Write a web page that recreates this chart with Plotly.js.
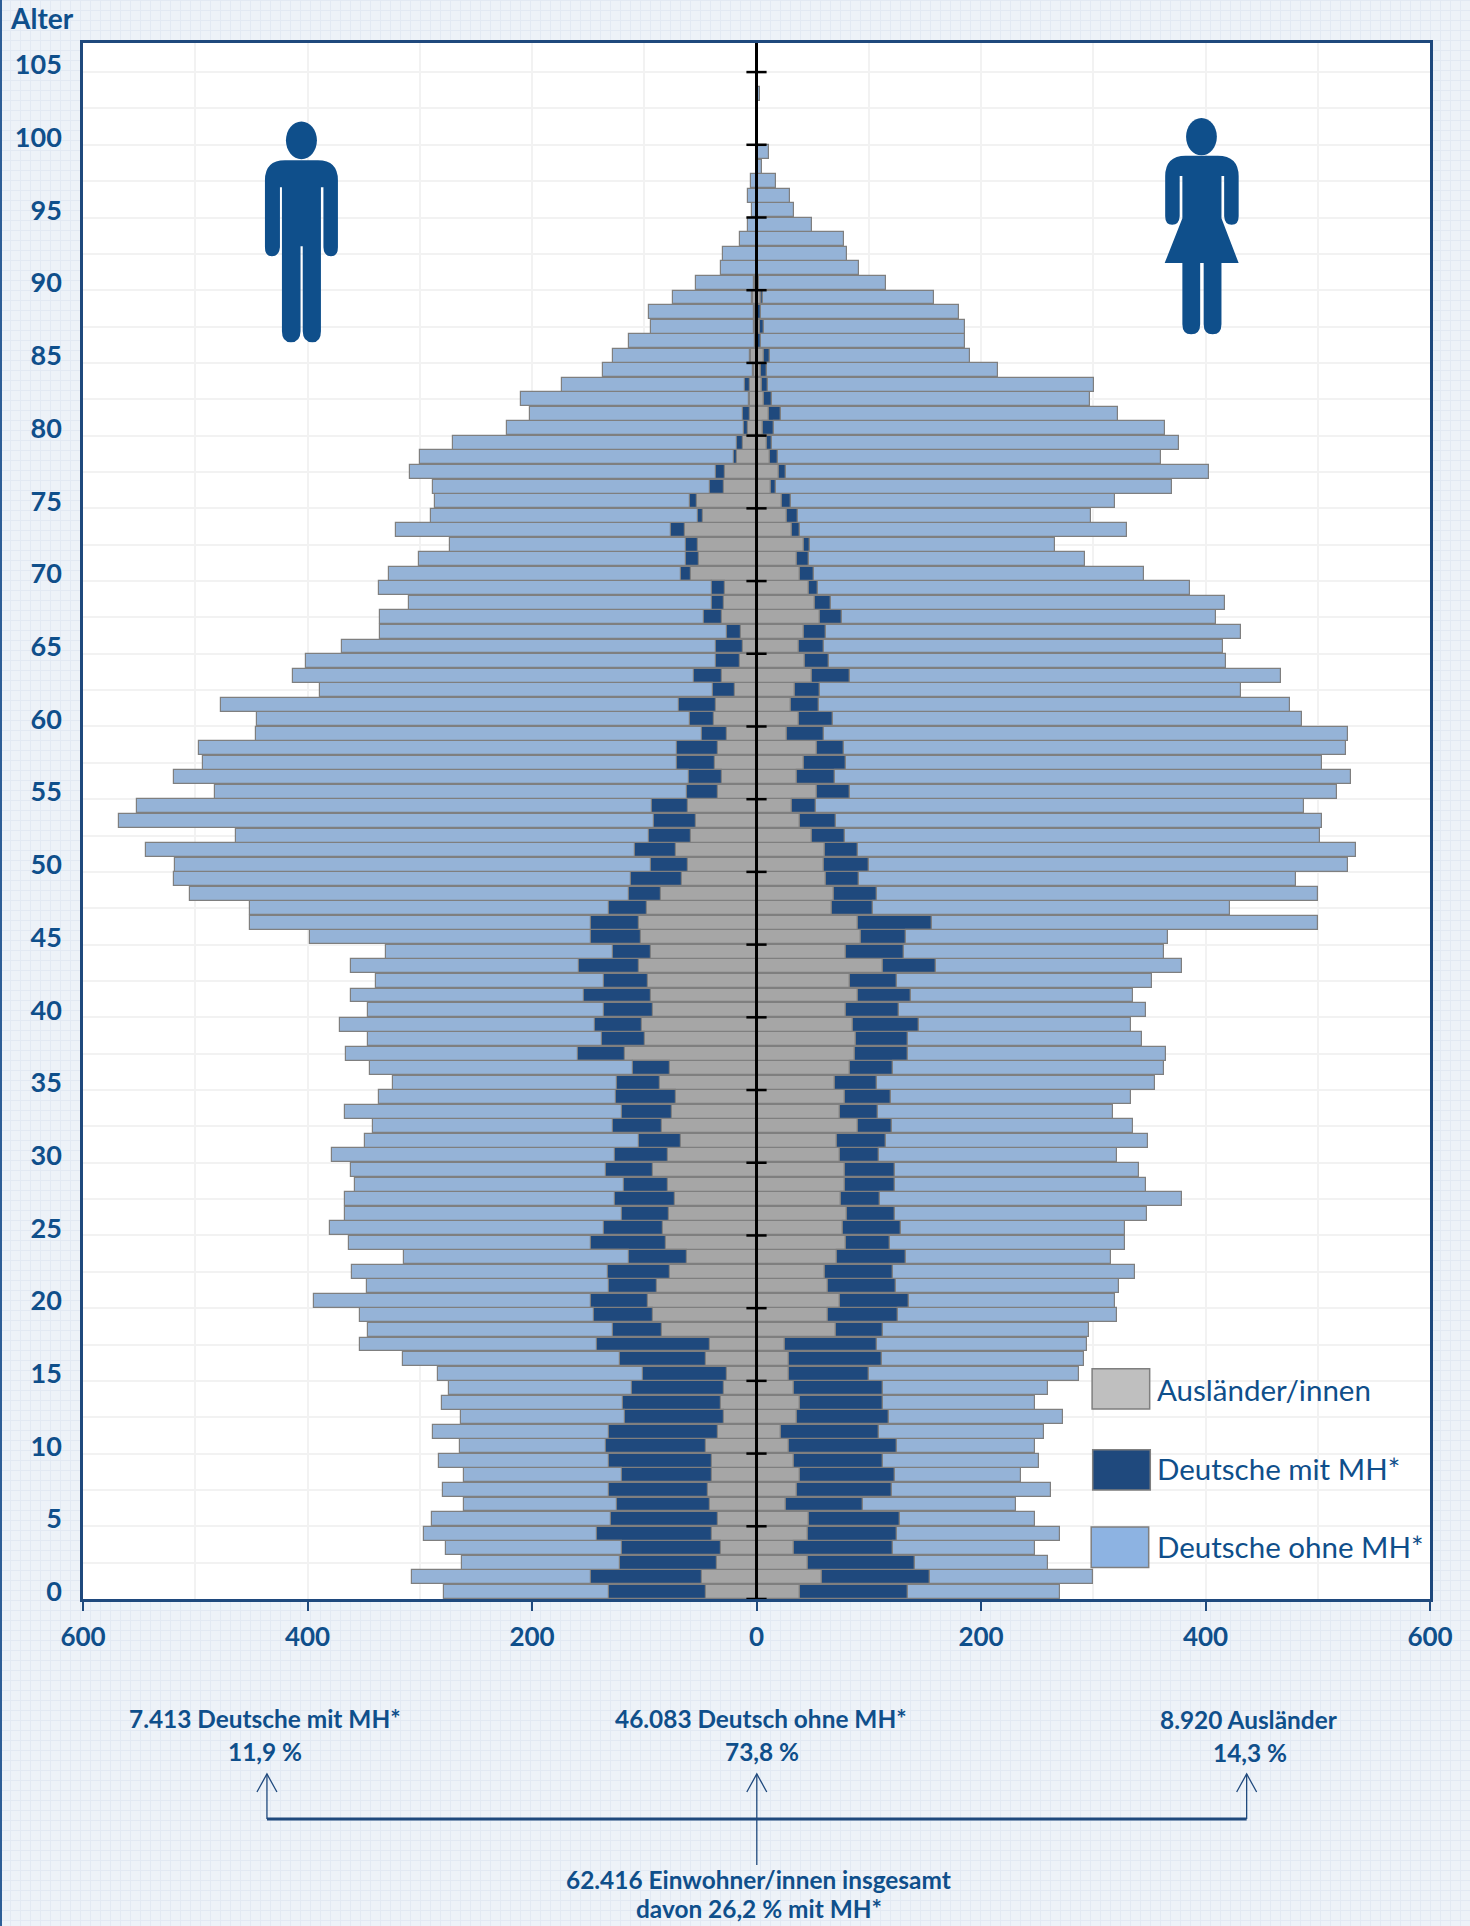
<!DOCTYPE html>
<html lang="de">
<head>
<meta charset="utf-8">
<title>Alterspyramide</title>
<script src="https://cdn.plot.ly/plotly-3.0.1.min.js"></script>
<style>
html,body{margin:0;padding:0;width:1470px;height:1926px;overflow:hidden;}
body{background-color:#EDF2F8;
background-image:linear-gradient(to right,#E2E9F3 1px,transparent 1px),linear-gradient(to bottom,#E2E9F3 1px,transparent 1px);
background-size:10px 10px;border-left:0;}
#edge{position:absolute;left:0;top:0;width:2px;height:1926px;background:#2F5F97;}
#chart{position:absolute;left:0;top:0;width:1470px;height:1926px;}
</style>
</head>
<body>
<div id="edge"></div>
<div id="chart"></div>
<script>
// Index = age (0..105). Each array holds the cumulative extent of the stack.
const maleForeign = [
45,49,35,32,40,34,41,43,40,40,
45,34,29,32,29,26,45,41,84,92,
97,89,77,62,81,83,78,73,79,92,
79,67,84,75,72,86,77,117,99,102,
92,94,97,105,94,103,105,98,85,66,
61,72,58,54,61,34,31,37,34,26,
38,36,19,31,15,12,14,31,29,28,
58,51,52,64,48,53,29,28,17,12,
8,6,6,6,2,5,1,1,1,3,
1,0,0,0,0,0,0,0,0,0,
0,0,0,0,0,0];
const maleForeignPlusMH = [
131,147,122,120,142,130,124,131,120,131,
134,131,117,119,111,101,122,142,128,145,
147,131,132,114,147,136,120,126,118,134,
126,105,128,120,125,124,110,159,138,144,
136,154,136,158,128,147,147,131,114,112,
94,108,96,91,93,62,60,71,71,49,
59,69,39,56,36,36,26,47,40,40,
67,63,63,76,52,59,41,36,20,17,
11,12,7,10,3,6,1,2,2,4,
2,0,0,0,0,0,0,0,0,0,
0,0,0,0,0,0];
const maleTotal = [
278,307,262,277,296,289,261,279,261,283,
264,288,263,280,274,284,315,353,346,353,
394,347,360,314,363,380,367,367,358,361,
378,349,342,367,336,324,344,366,346,371,
346,361,339,361,330,398,451,451,505,519,
518,544,464,568,552,482,519,493,497,446,
445,477,389,413,401,369,335,335,310,336,
327,301,273,321,290,286,288,309,300,270,
222,202,210,173,137,128,114,94,96,74,
54,32,30,15,8,4,8,5,0,0,
0,0,0,0,0,0];
const femaleForeign = [
39,58,46,33,46,47,26,36,39,33,
29,22,36,39,33,29,29,25,71,64,
74,64,61,72,80,77,81,75,79,79,
74,72,90,74,79,70,83,88,89,86,
80,90,83,113,80,93,90,67,69,62,
60,61,49,39,32,54,36,42,54,27,
38,31,34,49,43,38,42,57,52,47,
39,36,42,32,27,23,13,20,12,9,
6,11,7,5,4,7,1,3,1,4,
1,0,0,0,0,0,0,0,0,0,
0,0,0,0,0,0];
const femaleForeignPlusMH = [
135,155,141,122,125,128,95,121,123,113,
125,109,118,113,113,100,112,107,113,126,
136,124,122,133,119,129,123,110,123,123,
109,115,121,108,120,107,122,135,135,145,
127,138,125,160,131,133,156,104,107,91,
100,90,79,71,53,83,70,80,78,60,
68,56,57,83,65,60,62,76,66,55,
51,47,48,39,37,31,17,26,19,14,
16,22,14,10,9,12,4,7,4,6,
2,0,0,0,0,0,0,0,0,0,
0,0,0,0,0,0];
const femaleTotal = [
270,300,260,248,270,248,231,262,236,252,
248,256,273,248,260,287,292,294,296,321,
319,323,337,316,328,328,348,379,347,341,
321,349,335,318,334,355,363,365,343,334,
347,335,352,379,363,367,500,422,500,481,
527,534,502,504,488,517,530,504,525,527,
486,475,432,467,418,416,432,409,417,386,
345,293,266,330,298,319,370,403,360,376,
364,322,297,301,215,190,186,186,180,158,
115,91,81,78,49,33,30,17,5,11,
0,0,0,3,0,0];

const ageLabels = [0,5,10,15,20,25,30,35,40,45,50,55,60,65,70,75,80,85,90,95,100,105];
const xTickValues = [-600,-400,-200,0,200,400,600];
const seriesNames = ["Ausländer/innen","Deutsche mit MH*","Deutsche ohne MH*"];
const summaryTop = [
  ["7.413 Deutsche mit MH*","11,9 %"],
  ["46.083 Deutsch ohne MH*","73,8 %"],
  ["8.920 Ausländer","14,3 %"]];
const summaryTotal = ["62.416 Einwohner/innen insgesamt","davon 26,2 % mit MH*"];

const W=1470,H=1926;
const M={l:83,r:39.6,t:42.6,b:327};
const PW=W-M.l-M.r, PH=H-M.t-M.b;
const BLUE="#0F4F8B", NAVY="#1F497D", FONT="Lato, sans-serif";
const COL={grey:"#A6A6A6",dark:"#1F497D",light:"#95B3D7",edge:"#7F7F7F"};
// paper coordinates are relative to the plot area
const px=x=>(x-M.l)/PW, py=y=>1-(y-M.t)/PH;

const ages=maleTotal.map((_,i)=>i+0.5);
const diff=(a,b)=>a.map((v,i)=>Math.max(v-(b?b[i]:0),0));
function bar(name,vals,color,sign,leg){
  return {type:"bar",orientation:"h",name:name,y:ages,x:vals.map(v=>sign*v),width:0.96,
    marker:{color:color,line:{color:COL.edge,width:1.2}},
    hoverinfo:"name+x",showlegend:false,legendgroup:leg};
}
const traces=[
  bar(seriesNames[0],diff(maleForeign),COL.grey,-1,"a"),
  bar(seriesNames[1],diff(maleForeignPlusMH,maleForeign),COL.dark,-1,"b"),
  bar(seriesNames[2],diff(maleTotal,maleForeignPlusMH),COL.light,-1,"c"),
  bar(seriesNames[0],diff(femaleForeign),COL.grey,1,"a"),
  bar(seriesNames[1],diff(femaleForeignPlusMH,femaleForeign),COL.dark,1,"b"),
  bar(seriesNames[2],diff(femaleTotal,femaleForeignPlusMH),COL.light,1,"c")
];

// centre line and age ticks on it
const shapes=[{type:"line",xref:"x",yref:"paper",x0:0,x1:0,y0:0,y1:1,line:{color:"#000",width:3},layer:"above"}];
ageLabels.forEach(a=>shapes.push({type:"line",xref:"x",yref:"y",x0:-9,x1:9,y0:a,y1:a,line:{color:"#000",width:2.5},layer:"above"}));

function pathShape(d,fill,lineColor,lw){
  return {type:"path",xref:"paper",yref:"paper",path:d,fillcolor:fill||"rgba(0,0,0,0)",
    line:{color:lineColor||"rgba(0,0,0,0)",width:lw||0},layer:"above"};
}
const P=(x,y)=>px(x)+","+py(y);
const ell=(cx,cy,rx,ry)=>{
  const k=0.5523;
  return "M"+P(cx-rx,cy)+"C"+P(cx-rx,cy-k*ry)+" "+P(cx-k*rx,cy-ry)+" "+P(cx,cy-ry)+
  "C"+P(cx+k*rx,cy-ry)+" "+P(cx+rx,cy-k*ry)+" "+P(cx+rx,cy)+
  "C"+P(cx+rx,cy+k*ry)+" "+P(cx+k*rx,cy+ry)+" "+P(cx,cy+ry)+
  "C"+P(cx-k*rx,cy+ry)+" "+P(cx-rx,cy+k*ry)+" "+P(cx-rx,cy)+"Z";
};
// man icon
const man="M"+P(285,160)+"L"+P(318,160)+"Q"+P(338,160)+" "+P(338,180)+"L"+P(338,247)+
 "Q"+P(338,256)+" "+P(331,256)+"Q"+P(324,256)+" "+P(323.5,247)+"L"+P(323.5,187)+"L"+P(321,187)+
 "L"+P(321,331)+"Q"+P(321,342)+" "+P(312.5,342)+"Q"+P(303,342)+" "+P(302.8,331)+"L"+P(302.8,246)+"L"+P(300.6,246)+
 "L"+P(300.6,331)+"Q"+P(300.4,342)+" "+P(291,342)+"Q"+P(282,342)+" "+P(282,331)+"L"+P(282,187)+"L"+P(280,187)+
 "L"+P(280,247)+"Q"+P(279,256)+" "+P(272,256)+"Q"+P(265,256)+" "+P(265,247)+"L"+P(265,180)+"Q"+P(265,160)+" "+P(285,160)+"Z";
shapes.push(pathShape(ell(301.5,140,15.5,19),BLUE));
shapes.push(pathShape(man,BLUE));
// woman icon
const woman="M"+P(1186,155.3)+"L"+P(1218,155.3)+"Q"+P(1239,155.3)+" "+P(1239,176)+"L"+P(1239,216)+
 "Q"+P(1239,224.5)+" "+P(1232,224.5)+"Q"+P(1225,224.5)+" "+P(1224.5,216)+"L"+P(1224.5,175.7)+"L"+P(1221.8,175.7)+
 "L"+P(1221.8,218)+"L"+P(1239,262.7)+"L"+P(1221.8,262.7)+"L"+P(1221.8,324)+"Q"+P(1221.8,334)+" "+P(1213,334)+
 "Q"+P(1204,334)+" "+P(1204,324)+"L"+P(1204,262.7)+"L"+P(1200.5,262.7)+"L"+P(1200.5,324)+"Q"+P(1200.5,334)+" "+P(1191.5,334)+
 "Q"+P(1182.7,334)+" "+P(1182.7,324)+"L"+P(1182.7,262.7)+"L"+P(1165,262.7)+"L"+P(1182.7,218)+"L"+P(1182.7,175.7)+"L"+P(1180,175.7)+
 "L"+P(1180,216)+"Q"+P(1179.5,224.5)+" "+P(1172.5,224.5)+"Q"+P(1165.5,224.5)+" "+P(1165.5,216)+"L"+P(1165.5,176)+"Q"+P(1165.5,155.3)+" "+P(1186,155.3)+"Z";
shapes.push(pathShape(ell(1201.8,136.3,15.4,18.7),BLUE));
shapes.push(pathShape(woman,BLUE));

// legend swatches
[[1092.4,1150,1368.7,1409,"#BFBFBF"],[1093,1150.6,1449.7,1490,"#1F497D"],[1091.5,1149,1527,1567.5,"#8DB3E2"]].forEach(s=>{
  shapes.push({type:"rect",xref:"paper",yref:"paper",x0:px(s[0]),x1:px(s[1]),y0:py(s[2]),y1:py(s[3]),
    fillcolor:s[4],line:{color:COL.edge,width:1.5},layer:"above"});
});

// summary brackets and arrows
const bracketY=1819, tipY=1774;
shapes.push(pathShape("M"+P(267,bracketY)+"L"+P(1247,bracketY),null,NAVY,3));
[267,757,1247].forEach(x=>{
  const bottom=x===757?1865:bracketY;
  shapes.push(pathShape("M"+P(x,bottom)+"L"+P(x,tipY),null,NAVY,1.3));
  shapes.push(pathShape("M"+P(x-10,tipY+18)+"L"+P(x,tipY)+"L"+P(x+10,tipY+18),null,NAVY,1.3));
});

function txt(text,x,y,size,bold,anchor){
  return {xref:"paper",yref:"paper",x:px(x),y:py(y),text:bold?"<b>"+text+"</b>":text,showarrow:false,
    xanchor:anchor||"center",yanchor:"middle",font:{family:FONT,size:size,color:BLUE}};
}
const SUM=24.4;
const annotations=[
  txt("Alter",8,18,28,true,"left"),
  txt(seriesNames[0],1155.5,1389,29.5,false,"left"),
  txt(seriesNames[1],1155.5,1468,29.5,false,"left"),
  txt(seriesNames[2],1155.5,1546,29.5,false,"left"),
  txt(summaryTop[0][0],265,1719,SUM,true), txt(summaryTop[0][1],265,1752,SUM,true),
  txt(summaryTop[1][0],761,1719,SUM,true), txt(summaryTop[1][1],762,1752,SUM,true),
  txt(summaryTop[2][0],1249,1720,SUM,true), txt(summaryTop[2][1],1250,1753,SUM,true),
  txt(summaryTotal[0],759,1880,SUM,true), txt(summaryTotal[1],759,1909,SUM,true)
];

const gridY=[];for(let i=0;i<=42;i++)gridY.push(i*2.5);
const gridX=[];for(let i=-6;i<=6;i++)gridX.push(i*100);

const layout={
  width:W,height:H,paper_bgcolor:"rgba(0,0,0,0)",plot_bgcolor:"#FFFFFF",
  margin:{l:M.l,r:M.r,t:M.t,b:M.b,pad:0},
  barmode:"relative",bargap:0,showlegend:false,hovermode:"closest",
  xaxis:{range:[-600,600],tickmode:"array",tickvals:xTickValues,ticktext:xTickValues.map(v=>String(Math.abs(v))),
    showgrid:false,zeroline:false,showline:true,mirror:true,linecolor:NAVY,linewidth:2.5,
    ticks:"outside",ticklen:9,tickwidth:1.5,tickcolor:NAVY,ticklabelstandoff:4,
    tickfont:{family:FONT,size:26,color:BLUE,weight:700},
    minor:{tickmode:"array",tickvals:gridX,showgrid:true,gridcolor:"#F2F2F2",gridwidth:1.5,ticks:""}},
  yaxis:{range:[0,107],tickmode:"array",tickvals:ageLabels.map(a=>a+0.5),ticktext:ageLabels.map(String),
    showgrid:false,zeroline:false,showline:true,mirror:true,linecolor:NAVY,linewidth:2.5,
    ticks:"outside",ticklen:13,tickcolor:"rgba(0,0,0,0)",
    tickfont:{family:FONT,size:27,color:BLUE,weight:700},
    minor:{tickmode:"array",tickvals:gridY,showgrid:true,gridcolor:"#F2F2F2",gridwidth:1.5,ticks:""}},
  shapes:shapes,annotations:annotations
};
Plotly.newPlot("chart",traces,layout,{displayModeBar:false,responsive:false});
</script>
</body>
</html>
